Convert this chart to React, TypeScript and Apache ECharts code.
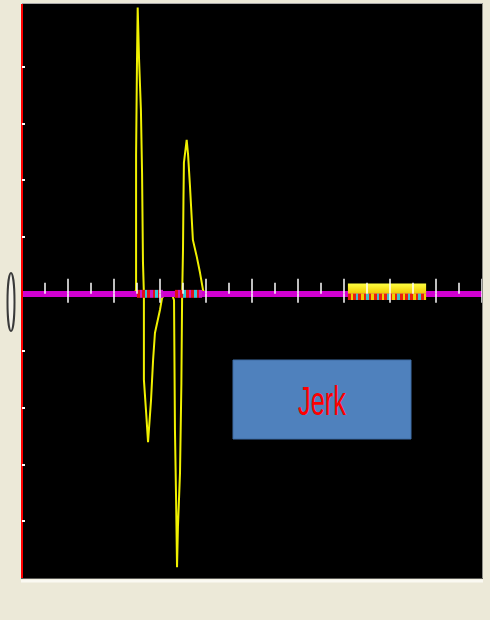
import React, { useEffect, useRef } from "react";
import * as echarts from "echarts";

// Sampled jerk trace: time (x) and jerk (y)
const timeValues = [
  0, 4.87, 4.96, 4.96, 5.0, 5.03, 5.09, 5.17, 5.22, 5.26, 5.3, 5.3, 5.41, 5.48,
  5.61, 5.7, 5.78, 6.0, 6.09, 6.22, 6.52, 6.61, 6.65, 6.7, 6.74, 6.78, 6.87,
  6.93, 6.96, 7.0, 7.02, 7.04, 7.16, 7.22, 7.3, 7.43, 7.6, 7.74, 7.87, 7.96, 20,
];
const jerkValues = [
  0, 0, 0.07, 2.45, 4.12, 5.04, 4.12, 3.24, 2.13, 0.55, 0, -1.51, -2.17, -2.61,
  -1.87, -1.16, -0.69, -0.28, -0.07, 0, 0, -0.11, -2.39, -3.63, -4.81, -4.1,
  -3.15, -1.57, -0.11, 0.77, 1.65, 2.31, 2.71, 2.45, 1.92, 0.95, 0.65, 0.37,
  0.07, 0, 0,
];

// Striped segments drawn on the zero line (start/end times)
const stripeStart = [5.0, 6.65];
const stripeEnd = [6.13, 7.83];
const stripeHalf = 0.07;

// Highlighted window on the zero line
const windowStart = 14.17;
const windowEnd = 17.57;
const windowTop = 0.18;
const windowBottom = -0.11;

// Axis ranges
const xMin = 0;
const xMax = 20;
const xInterval = 2;
const yMin = -5;
const yMax = 5.1;
const yTicks = [-4, -3, -2, -1, 1, 2, 3, 4];

const label = "Jerk";

function stripeGradient(width: number, period: number, colors: string[]) {
  const n = Math.max(1, Math.round(width / period));
  const stops: { offset: number; color: string }[] = [];
  for (let i = 0; i < n; i++) {
    const c = colors[i % colors.length];
    stops.push({ offset: i / n, color: c });
    stops.push({ offset: (i + 1) / n, color: c });
  }
  return new echarts.graphic.LinearGradient(0, 0, 1, 0, stops);
}

export default function App() {
  const ref = useRef<HTMLDivElement>(null);

  useEffect(() => {
    if (!ref.current) return;
    const chart = echarts.init(ref.current, undefined, { renderer: "svg" });

    const linePoints = timeValues.map((t, i) => [t, jerkValues[i]]);
    const markData = stripeStart.map((s, i) => [
      s,
      stripeEnd[i],
      -stripeHalf,
      stripeHalf,
      0,
    ]);
    markData.push([windowStart, windowEnd, windowBottom, windowTop, 1]);

    const baseX = {
      type: "value" as const,
      min: xMin,
      max: xMax,
      interval: xInterval,
      position: "bottom" as const,
      axisLabel: { show: false },
      splitLine: { show: false },
    };

    chart.setOption({
      animation: false,
      backgroundColor: "#ECE9D8",
      grid: {
        left: 22,
        right: 8,
        top: 4,
        bottom: 42,
        show: true,
        backgroundColor: "#000000",
        borderWidth: 0,
      },
      xAxis: [
        {
          ...baseX,
          z: 2,
          axisLine: {
            show: true,
            onZero: true,
            onZeroAxisIndex: 0,
            symbol: "none",
            lineStyle: { color: "#D000D0", width: 6, cap: "butt" },
          },
          axisTick: { show: false },
        },
        {
          ...baseX,
          z: 4,
          axisLine: { show: false, onZero: true, onZeroAxisIndex: 0 },
          axisTick: {
            show: true,
            inside: true,
            length: 15,
            lineStyle: { color: "#FFFFFF", width: 1.5 },
          },
          minorTick: {
            show: true,
            splitNumber: 2,
            length: 11,
            lineStyle: { color: "#FFFFFF", width: 1.5 },
          },
        },
        {
          ...baseX,
          z: 4,
          axisLine: { show: false, onZero: true, onZeroAxisIndex: 0 },
          axisTick: {
            show: true,
            inside: false,
            length: 9,
            lineStyle: { color: "#FFFFFF", width: 1.5 },
          },
        },
      ],
      yAxis: {
        type: "value",
        min: yMin,
        max: yMax,
        interval: 1,
        position: "left",
        z: 5,
        axisLine: {
          show: true,
          onZero: false,
          symbol: "none",
          lineStyle: { color: "#FF0000", width: 2, cap: "butt" },
        },
        axisTick: {
          show: true,
          inside: true,
          length: 3,
          customValues: yTicks,
          lineStyle: { color: "#FFFFFF", width: 2 },
        },
        axisLabel: { show: false },
        splitLine: { show: false },
      },
      series: [
        {
          type: "line",
          z: 1,
          xAxisIndex: 0,
          data: linePoints,
          symbol: "none",
          lineStyle: { color: "#F0F000", width: 2 },
        },
        {
          type: "custom",
          z: 3,
          xAxisIndex: 0,
          encode: { x: [0, 1], y: [2, 3] },
          data: markData,
          renderItem: (_params: any, api: any) => {
            const tl = api.coord([api.value(0), api.value(3)]);
            const br = api.coord([api.value(1), api.value(2)]);
            const w = br[0] - tl[0];
            const h = br[1] - tl[1];
            if (api.value(4) === 0) {
              return {
                type: "rect",
                shape: { x: tl[0], y: tl[1], width: w, height: h },
                style: {
                  fill: stripeGradient(w, 2.6, [
                    "#E01018",
                    "#C818C8",
                    "#E01018",
                    "#30C8D8",
                  ]),
                },
              };
            }
            const mid = api.coord([api.value(0), 0])[1];
            return {
              type: "group",
              children: [
                {
                  type: "rect",
                  shape: { x: tl[0], y: tl[1], width: w, height: mid - tl[1] },
                  style: {
                    fill: new echarts.graphic.LinearGradient(0, 0, 0, 1, [
                      { offset: 0, color: "#FFFF40" },
                      { offset: 1, color: "#F0C800" },
                    ]),
                  },
                },
                {
                  type: "rect",
                  shape: { x: tl[0], y: mid, width: w, height: br[1] - mid },
                  style: {
                    fill: stripeGradient(w, 2.6, [
                      "#E82010",
                      "#F0D000",
                      "#E82010",
                      "#40C0C8",
                    ]),
                  },
                },
              ],
            };
          },
        },
      ],
      graphic: [
        {
          type: "line",
          z: 10,
          shape: { x1: 22, y1: 3.5, x2: 482, y2: 3.5 },
          style: { stroke: "#A8A8A8", lineWidth: 1 },
        },
        {
          type: "line",
          z: 10,
          shape: { x1: 482.5, y1: 3, x2: 482.5, y2: 579 },
          style: { stroke: "#8E8E88", lineWidth: 1 },
        },
        {
          type: "line",
          z: 10,
          shape: { x1: 21, y1: 578.5, x2: 483, y2: 578.5 },
          style: { stroke: "#5A5A55", lineWidth: 1 },
        },
        {
          type: "line",
          z: 10,
          shape: { x1: 21, y1: 581, x2: 483, y2: 581 },
          style: { stroke: "#FAF9F2", lineWidth: 3 },
        },
        {
          type: "ellipse",
          z: 10,
          shape: { cx: 11, cy: 302, rx: 3.5, ry: 29 },
          style: { fill: "#F4F2EA", stroke: "#3A3A3A", lineWidth: 2 },
        },
        {
          type: "rect",
          z: 10,
          shape: { x: 233, y: 360, width: 178, height: 79 },
          style: { fill: "#4F81BD", stroke: "#3F6DA5", lineWidth: 1 },
        },
        {
          type: "text",
          z: 11,
          x: 322,
          y: 401,
          scaleX: 0.62,
          style: {
            text: label,
            fill: "#FF0000",
            fontSize: 41,
            fontFamily: "Liberation Sans",
            textAlign: "center",
            textVerticalAlign: "middle",
          },
        },
      ],
    });

    return () => chart.dispose();
  }, []);

  return (
    <div
      ref={ref}
      style={{ position: "fixed", left: 0, top: 0, width: 490, height: 620 }}
    />
  );
}
